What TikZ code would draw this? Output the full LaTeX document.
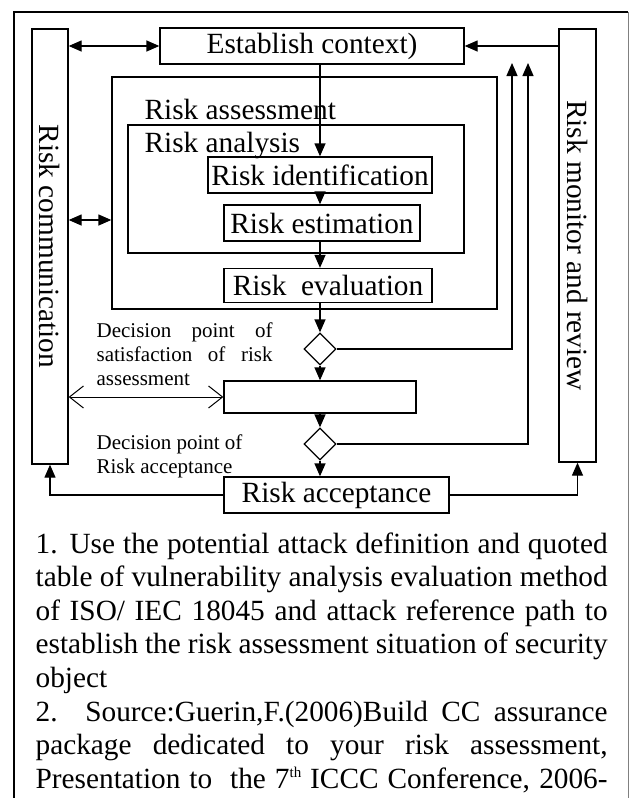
\documentclass[tikz,border=0pt]{standalone}
\usepackage{fontspec}
\setmainfont{Liberation Serif}
\usetikzlibrary{arrows.meta,shapes.geometric}

\begin{document}
\begin{tikzpicture}[x=1pt, y=-1pt, line width=1.3pt,
    box/.style={draw, inner sep=0pt, minimum height=36pt, font=\fontsize{29.3}{33.6}\selectfont},
    frame/.style={draw, inner sep=0pt},
    side/.style={draw, inner sep=0pt, minimum width=36pt},
    choice/.style={draw, diamond, inner sep=0pt, minimum width=32pt, minimum height=32pt},
    big/.style={font=\fontsize{29.3}{33.6}\selectfont, inner sep=0pt},
    note/.style={font=\fontsize{21}{24.3}\selectfont, inner sep=0pt, align=justify, text width=176pt, anchor=base west},
    flow/.style={-{Triangle[length=13pt,width=11pt]}},
    both/.style={{Triangle[length=13pt,width=11pt]}-{Triangle[length=13pt,width=11pt]}},
    open/.style={{Straight Barb[length=14pt,width=22pt]}-{Straight Barb[length=14pt,width=22pt]}, line width=1pt}]
    \useasboundingbox (0,0) rectangle (629,798);
    \draw (14,812) -- (14,12) -- (628,12);
    \draw[gray, line width=0.8pt] (628,12) -- (628,812);

    \node[side, minimum height=435pt] (comm) at (50,246.5) {};
    \node[big, rotate=-90] at (comm) {Risk communication};
    \node[side, minimum width=37pt, minimum height=433pt] (monitor) at (577.5,245.5) {};
    \node[big, rotate=-90] at (monitor) {Risk monitor and review};

    \node[box, minimum width=304pt] (est) at (312,46) {Establish context)};
    \node[frame, minimum width=385pt, minimum height=232pt] (assess) at (304.5,193) {};
    \node[big, anchor=base west] at (144,119) {Risk assessment};
    \node[frame, minimum width=336pt, minimum height=128pt] (analysis) at (296,189) {};
    \node[big, anchor=base west] at (144,152) {Risk analysis};
    \node[box, minimum width=224pt] (ident) at (320,175) {Risk identification};
    \node[box, minimum width=196pt] (estim) at (322,223) {Risk estimation};
    \node[box, minimum width=208pt, minimum height=34pt] (eval) at (328,285.5) {Risk\ \ evaluation};
    \node[choice] (d1) at (320,349) {};
    \node[box, minimum width=192pt, minimum height=32pt] (blank) at (320,397) {};
    \node[choice] (d2) at (320,444) {};
    \node[box, minimum width=225pt] (accept) at (336.5,495) {Risk acceptance};

    \node[note] (sat) at (96,337) {Decision point of satisfaction of risk assessment};
    \node[note] (acc) at (96,449) {Decision point of\\Risk acceptance};

    \coordinate (talk) at (90,220);
    \coordinate (up1) at (512,63);
    \coordinate (up2) at (528,63);

    \draw[flow] (est.south -| ident.north) -- (ident.north);
    \draw[flow] (ident.south) -- (ident.south |- estim.north);
    \draw[flow] (ident.south |- estim.south) -- (ident.south |- eval.north);
    \draw[flow] (ident.south |- eval.south) -- (d1.north);
    \draw[flow] (d1.south) -- (blank.north);
    \draw[flow] (blank.south) -- (d2.north);
    \draw[flow] (d2.south) -- (d2.south |- accept.north);
    \draw[flow] (d1.east) -| (up1);
    \draw[flow] (d2.east) -| (up2);
    \draw[flow] (monitor.west |- est.east) -- (est.east);
    \draw[both] (comm.east |- est.west) -- (est.west);
    \draw[both] (comm.east |- talk) -- (assess.west |- talk);
    \draw[open] (comm.east |- blank.west) -- (blank.west);
    \draw[flow] (accept.west) -| (comm.south);
    \draw[flow] (accept.east) -| (monitor.south);

    \node[big, anchor=base west, text width=572pt, align=justify] (remark) at (35,553)
        {1. Use the potential attack definition and quoted\linebreak
        table of vulnerability analysis evaluation method\linebreak
        of ISO/ IEC 18045 and attack reference path to\linebreak
        establish the risk assessment situation of security\linebreak
        object\\
        2. Source:Guerin,F.(2006)Build CC assurance\linebreak
        package dedicated to your risk assessment,\linebreak
        Presentation to\ \ the 7\raisebox{11pt}{\fontsize{15}{15}\selectfont th} ICCC Conference, 2006-\linebreak};
\end{tikzpicture}
\end{document}
